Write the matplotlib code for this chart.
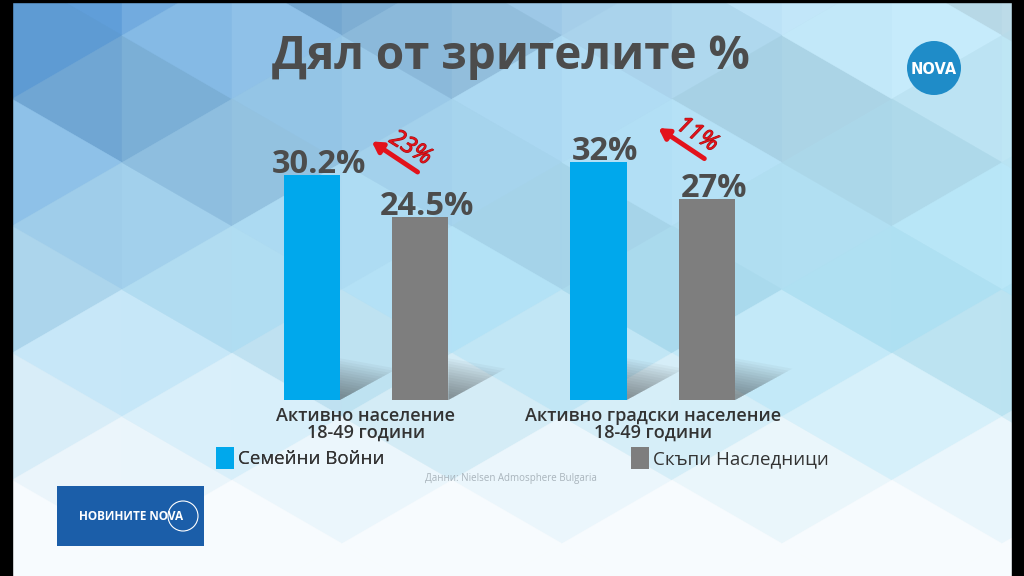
import numpy as np
import matplotlib
matplotlib.use("Agg")
import matplotlib.pyplot as plt
from matplotlib.patches import Rectangle, Polygon, Circle
from matplotlib import patheffects as pe

plt.rcParams['font.family'] = ['Open Sans', 'DejaVu Sans']

# --- данни ---
categories = ["Активно население\n18-49 години", "Активно градски население\n18-49 години"]
semeyni = [30.2, 32]          # Семейни Войни
skapi = [24.5, 27]            # Скъпи Наследници
value_labels_a = ["30.2%", "32%"]
value_labels_b = ["24.5%", "27%"]
change_labels = ["23%", "11%"]
series_names = ["Семейни Войни", "Скъпи Наследници"]
title = "Дял от зрителите %"
source = "Данни: Nielsen Admosphere Bulgaria"

BLUE = "#00a8ec"
GREY = "#7e7e7e"
TXT = "#4c4c4c"
RED = "#e3121b"

W, H = 1024, 576
fig = plt.figure(figsize=(W / 100, H / 100), dpi=100)

# фон: градиент + триъгълници
bg = fig.add_axes([0, 0, 1, 1], zorder=0)
bg.set_xlim(0, W)
bg.set_ylim(H, 0)
bg.axis("off")


def base_col(x, y):
    top_l = np.array([0.17, 0.46, 0.76])
    top_r = np.array([0.78, 0.91, 0.96])
    mid_l = np.array([0.72, 0.86, 0.95])
    mid_r = np.array([0.68, 0.88, 0.95])
    bot = np.array([0.97, 0.985, 0.995])
    fx = np.clip(x / W, 0, 1) ** 0.45
    if y < 300:
        fy = y / 300
        top = top_l * (1 - fx) + top_r * fx
        mid = mid_l * (1 - fx) + mid_r * fx
        return top * (1 - fy) + mid * fy
    fy = min((y - 300) / 220, 1)
    mid = mid_l * (1 - fx) + mid_r * fx
    return mid * (1 - fy) + bot * fy


yy, xx = np.mgrid[0:H:4, 0:W:4]
img = np.zeros(yy.shape + (3,))
for i in range(yy.shape[0]):
    for j in range(yy.shape[1]):
        img[i, j] = base_col(xx[i, j], yy[i, j])
bg.imshow(img, extent=(0, W, H, 0), aspect="auto", zorder=0)

cw = 110.0
ch = 2 * cw / np.sqrt(3)
x0, y0 = 12.0, -28.0


def P(k, j):
    return (x0 + k * cw, y0 + j * ch + (ch / 2 if k % 2 else 0))


shades = [0.0, -0.05, 0.035]
for k in range(-1, 10):
    for j in range(-1, 6):
        if k % 2 == 0:
            tris = [[P(k, j), P(k, j + 1), P(k + 1, j)],
                    [P(k + 1, j), P(k + 1, j + 1), P(k, j + 1)]]
        else:
            tris = [[P(k, j), P(k, j + 1), P(k + 1, j + 1)],
                    [P(k + 1, j), P(k + 1, j + 1), P(k, j)]]
        for t, tri in enumerate(tris):
            cx = np.mean([p[0] for p in tri])
            cy = np.mean([p[1] for p in tri])
            c = base_col(cx, cy)
            s = shades[(k + 2 * j + t) % 3] * (1 - min(cy / 500, 1))
            c = np.clip(c + s, 0, 1)
            bg.add_patch(Polygon(tri, closed=True, facecolor=c, edgecolor=c,
                                 lw=0.3, zorder=1))

# черни ръбове
bg.add_patch(Rectangle((0, 0), 12, H, color="black", zorder=5))
bg.add_patch(Rectangle((1012, 0), 12, H, color="black", zorder=5))
bg.add_patch(Rectangle((0, 0), W, 2, color="black", zorder=5))

# лого NOVA горе вдясно
bg.add_patch(Circle((934, 68), 27, facecolor="#1f8cc8", edgecolor="none", zorder=6))
bg.text(934, 69, "NOVA", color="white", fontsize=10.5, fontweight="bold",
        ha="center", va="center", zorder=7, family=["DejaVu Sans"])

# лого НОВИНИТЕ NOVA долу вляво
bg.add_patch(Rectangle((57, 486), 147, 60, facecolor="#1b5ea9", edgecolor="none", zorder=6))
bg.text(131, 517, "НОВИНИТЕ NOVA", color="white", fontsize=8.5, fontweight="bold",
        ha="center", va="center", zorder=7)
bg.add_patch(Circle((183, 516), 15, facecolor="none", edgecolor="white", lw=0.8, zorder=7))

# графика
ax = fig.add_axes([222.6 / W, (H - 400) / H, 573.5 / W, 298 / H], zorder=2)
ax.patch.set_alpha(0)
ax.set_xlim(-0.5, 1.5)
ax.set_ylim(0, 40)
for s in ax.spines.values():
    s.set_visible(False)
ax.set_xticks([])
ax.set_yticks([])

x = np.arange(len(categories))
off, bw = 0.189, 0.196

# меки сенки зад колоните (вложени триъгълници от долния десен ъгъл)
for xr in list(x - off + bw / 2) + list(x + off + bw / 2):
    for sc in np.linspace(1.0, 0.15, 14):
        ax.add_patch(Polygon([(xr, 0), (xr, sc * 5.6), (xr + sc * 0.2, sc * 4.2)],
                             closed=True, facecolor="#2a2a2a", alpha=0.04,
                             edgecolor="none", zorder=1))

ba = ax.bar(x - off, semeyni, bw, color=BLUE, zorder=3, label=series_names[0])
bb = ax.bar(x + off, skapi, bw, color=GREY, zorder=3, label=series_names[1])

for i in range(len(x)):
    ax.annotate(value_labels_a[i], (x[i] - off, semeyni[i]), xytext=(5, 1.5),
                textcoords="offset points", ha="center", va="baseline",
                fontsize=23.5, color=TXT, fontweight="bold", zorder=4)
    ax.annotate(value_labels_b[i], (x[i] + off, skapi[i]), xytext=(5, 1.5),
                textcoords="offset points", ha="center", va="baseline",
                fontsize=23.5, color=TXT, fontweight="bold", zorder=4)
    ax.annotate("", xy=(x[i] + 0.02, semeyni[i] + 4.5), xytext=(x[i] + 0.18, semeyni[i] + 0.4),
                arrowprops=dict(arrowstyle="-|>,head_length=0.6,head_width=0.35",
                                color=RED, lw=3.5, shrinkA=0, shrinkB=0), zorder=5)
    ax.text(x[i] + 0.155, semeyni[i] + 3.6, change_labels[i], rotation=-32,
            ha="center", va="center", fontsize=17, color=RED,
            style="italic", zorder=6,
            path_effects=[pe.withStroke(linewidth=0.8, foreground="#a01010")])
    ax.text(x[i], -1.0, categories[i], ha="center", va="top", fontsize=13,
            color="#333333", fontweight="semibold", linespacing=0.9)

fig.text(511 / W, 1 - 56 / H, title, ha="center", va="center", fontsize=33,
         fontweight="bold", color=TXT)
fig.text(511 / W, 1 - 478 / H, source, ha="center", va="center", fontsize=7,
         color="#a9b4bc")

leg1 = fig.legend(handles=[ba], labels=[series_names[0]], loc="center left",
                  bbox_to_anchor=(199 / W, 1 - 458 / H), frameon=False,
                  fontsize=13.5, handlelength=0.95, handleheight=1.5, handletextpad=0.25,
                  labelcolor="#333333")
leg2 = fig.legend(handles=[bb], labels=[series_names[1]], loc="center left",
                  bbox_to_anchor=(614 / W, 1 - 458 / H), frameon=False,
                  fontsize=13.5, handlelength=0.95, handleheight=1.5, handletextpad=0.25,
                  labelcolor="#333333")
fig.add_artist(leg1)

fig.savefig("out.png", dpi=100)
